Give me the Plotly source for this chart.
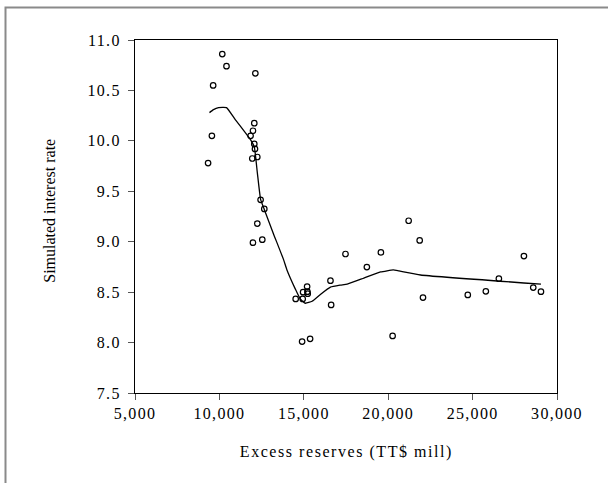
import plotly.graph_objects as go

# Observed (excess reserves, simulated rate) pairs
reserves = [
    9330, 9555, 9630, 10170, 10420, 12130, 12067, 11990, 11847, 12067,
    12108, 11948, 12245, 12441, 12660, 12245, 12541, 11989,
    15196, 14958, 15214, 15232, 14519, 14935, 16580, 16620, 14899, 15374,
    17470, 19567, 18735, 20261, 21211, 21865, 28040, 26556, 22061, 24715,
    25784, 28593, 29050,
]
rates = [
    9.78, 10.05, 10.55, 10.86, 10.74, 10.67, 10.175, 10.10, 10.05, 9.97,
    9.92, 9.825, 9.84, 9.415, 9.325, 9.18, 9.02, 8.99,
    8.555, 8.50, 8.505, 8.485, 8.433, 8.433, 8.614, 8.373, 8.01, 8.037,
    8.878, 8.894, 8.749, 8.066, 9.208, 9.013, 8.858, 8.634, 8.446, 8.472,
    8.508, 8.545, 8.505,
]

# Smoothed fit through the scatter
fit_x = [
    9412, 9650, 9950, 10420, 10940, 11500, 11850, 12067, 12250, 12441,
    12660, 13200, 13806, 14002, 14500, 14800, 15095, 15490, 16000, 16580,
    17170, 17570, 18560, 19550, 20300, 20640, 21920, 29050,
]
fit_y = [
    10.28, 10.31, 10.33, 10.33, 10.21, 10.09, 10.01, 9.94, 9.68, 9.42,
    9.32, 9.08, 8.82, 8.72, 8.53, 8.43, 8.39, 8.41, 8.48, 8.55,
    8.57, 8.58, 8.64, 8.70, 8.72, 8.71, 8.67, 8.58,
]

x_ticks = [5000, 10000, 15000, 20000, 25000, 30000]
x_tick_text = ["5,000", "10,000", "15,000", "20,000", "25,000", "30,000"]
y_ticks = [7.5, 8.0, 8.5, 9.0, 9.5, 10.0, 10.5, 11.0]
y_tick_text = ["7.5", "8.0", "8.5", "9.0", "9.5", "10.0", "10.5", "11.0"]

x_title = "Excess reserves (TT$ mill)"
y_title = "Simulated interest rate"

FONT = "Liberation Serif"
W, H = 608, 483
L, R, T, B = 135, 51, 40, 89.5
pw, ph = W - L - R, H - T - B

fig = go.Figure()
fig.add_trace(go.Scatter(
    x=fit_x, y=fit_y, mode="lines",
    line=dict(color="black", width=1.3, shape="spline", smoothing=0.4),
    hoverinfo="skip", showlegend=False,
))
fig.add_trace(go.Scatter(
    x=reserves, y=rates, mode="markers",
    marker=dict(symbol="circle-open", size=5.5, color="black", line=dict(width=1.2)),
    showlegend=False,
))

axis_common = dict(
    showgrid=False, zeroline=False, showline=True, mirror=True,
    linecolor="black", linewidth=1.2,
    ticks="outside", ticklen=6, tickcolor="#555", tickwidth=1,
    tickfont=dict(family=FONT, size=16, color="black"),
)

fig.update_xaxes(range=[5000, 30000], tickvals=x_ticks, ticktext=x_tick_text, **axis_common)
fig.update_yaxes(range=[7.5, 11.0], tickvals=y_ticks, ticktext=y_tick_text,
                 ticklabelstandoff=4, **axis_common)


def px_to_paper_x(px):
    return (px - L) / pw


def px_to_paper_y(py):
    return (H - B - py) / ph


fig.add_annotation(
    text=x_title, xref="paper", yref="paper",
    x=px_to_paper_x(346), y=px_to_paper_y(453),
    xanchor="center", yanchor="middle", showarrow=False,
    font=dict(family=FONT, size=16, color="black"),
)
fig.add_annotation(
    text=y_title, xref="paper", yref="paper",
    x=px_to_paper_x(50), y=px_to_paper_y(211),
    xanchor="center", yanchor="middle", textangle=-90, showarrow=False,
    font=dict(family=FONT, size=16, color="black"),
)

# Outer frame around the whole figure
fig.add_shape(
    type="rect", xref="paper", yref="paper", layer="below",
    x0=px_to_paper_x(5.5), x1=px_to_paper_x(640),
    y0=px_to_paper_y(520), y1=px_to_paper_y(7.5),
    line=dict(color="#8a8a8a", width=2),
)

fig.update_layout(
    width=W, height=H,
    margin=dict(l=L, r=R, t=T, b=B),
    paper_bgcolor="white", plot_bgcolor="white",
    font=dict(family=FONT),
)

# Slightly tracked lettering for tick labels and the x-axis title
spacing_js = """
document.querySelectorAll('.xtick text, .ytick text').forEach(function (t) {
  t.style.letterSpacing = '1.3px';
});
document.querySelectorAll('.annotation[data-index="0"] .annotation-text').forEach(function (t) {
  t.style.letterSpacing = '1.55px';
});
"""

fig.write_html("out.html", post_script=spacing_js)
